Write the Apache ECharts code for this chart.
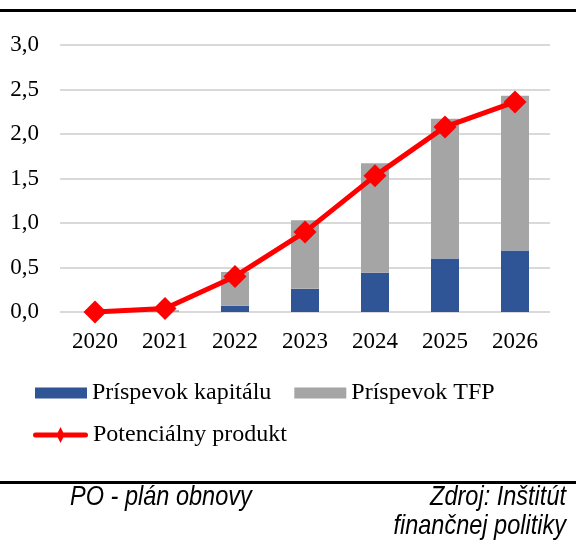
<!DOCTYPE html>
<html><head><meta charset="utf-8">
<script src="https://cdn.jsdelivr.net/npm/echarts@6/dist/echarts.min.js"></script>
<style>html,body{margin:0;padding:0;background:#fff}#c{width:576px;height:543px}</style>
</head><body><div id="c"></div>
<script>
const categories = ['2020','2021','2022','2023','2024','2025','2026'];
const kapital = [0, 0, 0.07, 0.26, 0.44, 0.60, 0.69];
const tfp = [0, 0.02, 0.38, 0.77, 1.23, 1.57, 1.74];
const produkt = [0, 0.04, 0.40, 0.90, 1.53, 2.08, 2.36];
const yTicks = [0, 3, 0.5];

const serif = '"Liberation Serif", "Times New Roman", serif';
const sans = '"Liberation Sans", Arial, sans-serif';
const chart = echarts.init(document.getElementById('c'));
chart.setOption({
  animation: false,
  grid: {left: 60, right: 26, top: 45, bottom: 231, containLabel: false},
  xAxis: {type: 'category', data: categories,
    axisLine: {show: false}, axisTick: {show: false},
    axisLabel: {fontFamily: serif, fontSize: 23, color: '#000', margin: 18}},
  yAxis: {type: 'value', min: yTicks[0], max: yTicks[1], interval: yTicks[2],
    axisLine: {show: false}, axisTick: {show: false},
    splitLine: {lineStyle: {color: '#d9d9d9', width: 2}},
    axisLabel: {fontFamily: serif, fontSize: 23, color: '#000', margin: 21,
      formatter: v => v.toFixed(1).replace('.', ',')}},
  legend: [
    {data: ['Príspevok kapitálu', 'Príspevok TFP'], icon: 'rect', left: 35, top: 381, padding: 0,
      itemWidth: 52, itemHeight: 11, itemGap: 23,
      textStyle: {fontFamily: serif, fontSize: 24, color: '#000'}},
    {data: ['Potenciálny produkt'], left: 33, top: 423, padding: 0, itemWidth: 55, itemHeight: 16,
      icon: 'path://M2.5,5.5 L52.5,5.5 A2.5,2.5 0 0 1 52.5,10.5 L2.5,10.5 A2.5,2.5 0 0 1 2.5,5.5 Z M27.5,0 L31.5,8 L27.5,16 L23.5,8 Z',
      textStyle: {fontFamily: serif, fontSize: 24, color: '#000'}}
  ],
  series: [
    {name: 'Príspevok kapitálu', type: 'bar', stack: 's', data: kapital, barWidth: 28,
      itemStyle: {color: '#2F5597'}},
    {name: 'Príspevok TFP', type: 'bar', stack: 's', data: tfp, barWidth: 28,
      itemStyle: {color: '#A5A5A5'}},
    {name: 'Potenciálny produkt', type: 'line', data: produkt, symbol: 'diamond', symbolSize: 23,
      lineStyle: {color: '#FF0000', width: 5}, itemStyle: {color: '#FF0000'}, z: 5}
  ],
  graphic: [
    {type: 'rect', shape: {x: 0, y: 9, width: 576, height: 3}, style: {fill: '#000'}},
    {type: 'rect', shape: {x: 0, y: 481, width: 576, height: 3}, style: {fill: '#000'}},
    {type: 'text', x: 70, y: 511, scaleX: 0.84, style: {text: 'PO - plán obnovy', font: 'italic 28px ' + sans, fill: '#000', textAlign: 'left', textVerticalAlign: 'bottom'}},
    {type: 'text', x: 566, y: 511, scaleX: 0.84, style: {text: 'Zdroj: Inštitút', font: 'italic 28px ' + sans, fill: '#000', textAlign: 'right', textVerticalAlign: 'bottom'}},
    {type: 'text', x: 566, y: 540, scaleX: 0.84, style: {text: 'finančnej politiky', font: 'italic 28px ' + sans, fill: '#000', textAlign: 'right', textVerticalAlign: 'bottom'}}
  ]
});
</script></body></html>
